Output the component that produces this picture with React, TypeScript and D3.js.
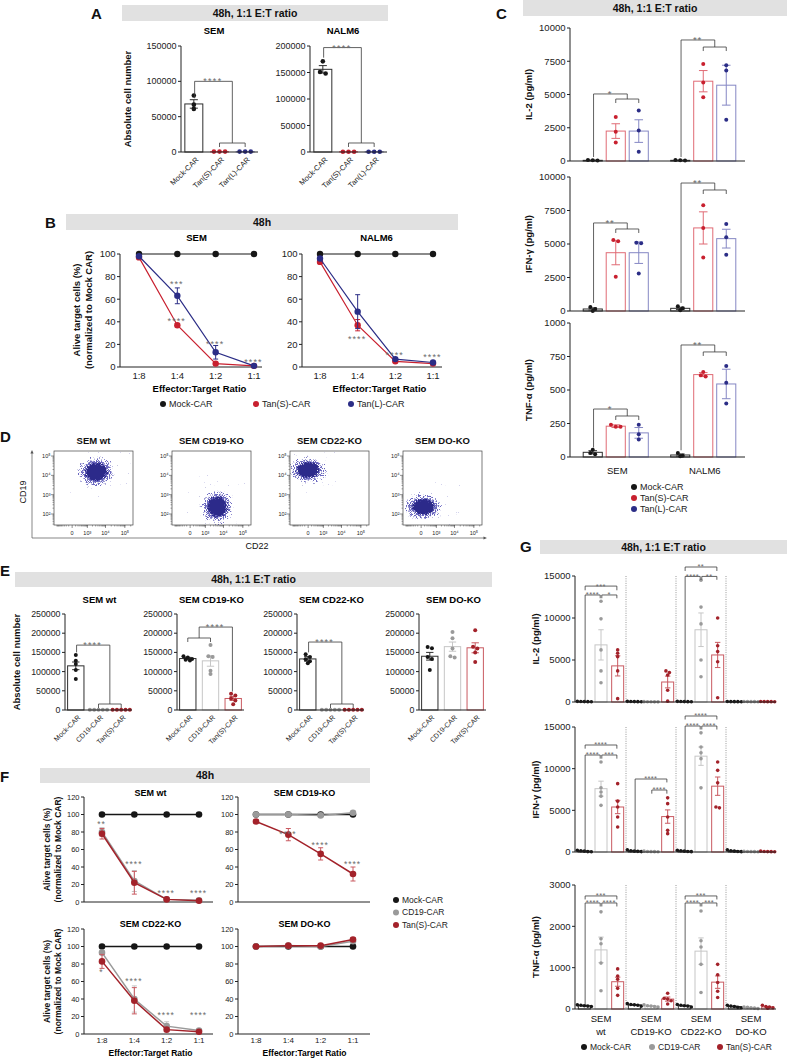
import React from 'react'
import * as d3 from 'd3'

const FONT = '"Liberation Sans", Arial, Helvetica, sans-serif'
const K = '#161616'
const K_L = '#2e2e2e'
const RED = '#c8202f'
const RED_L = '#e06b75'
const BLUE = '#2b2d86'
const BLUE_L = '#8587c4'
const GREY = '#9a9a9a'
const GREY_L = '#c6c6c6'
const DRED = '#a3222a'
const DRED_L = '#c95a61'
const STAR = '#6b6b6b'
const HEAD = '#e1e1e1'

// ---------- A: absolute counts, 48h 1:1
const aCars = ['Mock-CAR', 'Tan(S)-CAR', 'Tan(L)-CAR']
const aSemMean = [68000, 600, 600]
const aSemErr = [6000, 0, 0]
const aSemDots = [[80000, 67000, 61000], [600, 600, 600], [600, 600, 600]]
const aNalmMean = [156000, 600, 600]
const aNalmErr = [7000, 0, 0]
const aNalmDots = [[171000, 151000, 148000], [600, 600, 600], [600, 600, 600]]
const aSemTicks = [0, 50000, 100000, 150000]
const aNalmTicks = [0, 50000, 100000, 150000, 200000]
const aSemSig = [{ t: '****', a: [0], aTo: 76000, b: [1, 2], bTo: 12700, at: 100000 }]
const aNalmSig = [{ t: '****', a: [0], aTo: 178000, b: [1, 2], bTo: 17000, at: 197000 }]

// ---------- B: killing curves
const ratios = ['1:8', '1:4', '1:2', '1:1']
const bMock = [100, 100, 100, 100]
const bSemTanS = [97, 37, 3, 1]
const bSemTanSErr = [1, 1.5, 1, 0.5]
const bSemTanL = [98, 63, 13, 1]
const bSemTanLErr = [1, 7, 6, 0.5]
const bSemStars = [['***', 1, 75], ['****', 1, 42.5], ['****', 2, 22], ['****', 3, 6]]
const bNalmTanS = [93, 37, 5, 3]
const bNalmTanSErr = [1, 5, 1, 0.5]
const bNalmTanL = [96, 49, 7, 4]
const bNalmTanLErr = [1, 15, 1, 0.5]
const bNalmStars = [['****', 1, 27], ['****', 2, 13], ['****', 3, 10.5]]
const bTicks = [0, 20, 40, 60, 80, 100]

// ---------- C: cytokines
const cLines = ['SEM', 'NALM6']
const cIl2Mean = [50, 2250, 2250, 50, 6000, 5700]
const cIl2Err = [10, 550, 850, 10, 800, 1500]
const cIl2Dots = [[80, 50, 30], [3300, 2200, 1400], [3800, 2300, 700], [80, 50, 30], [7300, 5900, 4800], [7200, 6800, 3100]]
const cIfnMean = [150, 4350, 4350, 200, 6200, 5400]
const cIfnErr = [80, 900, 800, 80, 1200, 700]
const cIfnDots = [[300, 150, 0], [5300, 5200, 2550], [5100, 5050, 2800], [350, 200, 50], [7900, 6200, 4000], [6500, 5500, 4200]]
const cTnfMean = [35, 230, 180, 15, 615, 545]
const cTnfErr = [12, 10, 40, 8, 15, 110]
const cTnfDots = [[55, 30, 20], [240, 225, 225], [240, 170, 130], [30, 10, 5], [635, 610, 600], [680, 555, 400]]
const cCytoTicks = [0, 2500, 5000, 7500, 10000]
const cTnfTicks = [0, 250, 500, 750, 1000]
const cIl2Sig = [
  { t: '*', a: [0], aTo: 300, b: [1, 2], bTo: 4660, at: 5040 },
  { t: '**', a: [3], aTo: 300, b: [4, 5], bTo: 8570, at: 9100 },
]
const cIfnSig = [
  { t: '**', a: [0], aTo: 600, b: [1, 2], bTo: 6120, at: 6570 },
  { t: '**', a: [3], aTo: 600, b: [4, 5], bTo: 9030, at: 9550 },
]
const cTnfSig = [
  { t: '*', a: [0], aTo: 70, b: [1, 2], bTo: 306, at: 358 },
  { t: '**', a: [3], aTo: 50, b: [4, 5], bTo: 784, at: 836 },
]

// ---------- D: flow cytometry populations (CD22 median, CD19 median, spreads)
const dPlots = ['SEM wt', 'SEM CD19-KO', 'SEM CD22-KO', 'SEM DO-KO']
const dCd22 = [3200, 4700, 0, 60]
const dCd19 = [15000, 235, 19000, 235]
const dCd22Sd = [1.6, 1.45, 1.65, 1.65]
const dCd19Sd = [0.58, 0.65, 0.5, 0.5]

// ---------- E: absolute counts on KO lines
const eSubs = ['SEM wt', 'SEM CD19-KO', 'SEM CD22-KO', 'SEM DO-KO']
const eCars = ['Mock-CAR', 'CD19-CAR', 'Tan(S)-CAR']
const eTicks = [0, 50000, 100000, 150000, 200000, 250000]
const eWtMean = [115000, 500, 500]
const eWtErr = [10000, 0, 0]
const eWtDots = [[143000, 128000, 120000, 104000, 81000], [500, 500, 500, 500, 500], [500, 500, 500, 500, 500]]
const eCd19Mean = [134000, 128000, 30000]
const eCd19Err = [3000, 14000, 5000]
const eCd19Dots = [[140000, 137000, 133000, 131000, 129000], [169000, 140000, 138000, 102000, 94000], [42000, 38000, 30000, 25000, 15000]]
const eCd22Mean = [133000, 500, 500]
const eCd22Err = [6000, 0, 0]
const eCd22Dots = [[145000, 138000, 132000, 127000, 122000], [500, 500, 500, 500, 500], [500, 500, 500, 500, 500]]
const eDoMean = [140000, 165000, 162000]
const eDoErr = [10000, 12000, 13000]
const eDoDots = [[164000, 161000, 138000, 133000, 104000], [203000, 187000, 160000, 140000, 137000], [208000, 165000, 160000, 150000, 125000]]
const eWtSig = [{ t: '****', a: [0], aTo: 150000, b: [1, 2], bTo: 15600, at: 169000 }]
const eCd19Sig = [{ t: '****', a: [0, 1], aTo: 187500, b: [2], bTo: 48000, at: 216000 }]
const eCd22Sig = [{ t: '****', a: [0], aTo: 150000, b: [1, 2], bTo: 15600, at: 177000 }]

// ---------- F: killing curves on KO lines
const fTicks = [0, 20, 40, 60, 80, 100, 120]
const fWtCd19 = [80, 24, 3, 2]
const fWtCd19Err = [5, 12, 1, 0.5]
const fWtTanS = [78, 22, 3, 1.5]
const fWtTanSErr = [6, 13, 1, 0.5]
const fWtStars = [['**', 0, 91], ['****', 1, 46], ['****', 2, 12.5], ['****', 3, 12.5]]
const fCd19Cd19 = [100, 100, 99, 102]
const fCd19Cd19Err = [1, 1, 2, 1.5]
const fCd19TanS = [92, 77, 55, 32]
const fCd19TanSErr = [2, 7, 7, 8]
const fCd19Stars = [['****', 1, 80], ['****', 2, 67], ['****', 3, 46]]
const fCd22Cd19 = [93, 40, 9, 4]
const fCd22Cd19Err = [2, 15, 5, 1]
const fCd22TanS = [83, 38, 5, 2.5]
const fCd22TanSErr = [8, 15, 2, 1]
const fCd22Stars = [['*', 0, 73], ['****', 1, 63], ['****', 2, 24], ['****', 3, 24]]
const fDoCd19 = [100, 101, 100, 106]
const fDoCd19Err = [1, 1, 1, 2]
const fDoTanS = [100, 101, 101, 108]
const fDoTanSErr = [1, 1, 1, 2]

// ---------- G: cytokines on KO lines
const gGroups = [['SEM', 'wt'], ['SEM', 'CD19-KO'], ['SEM', 'CD22-KO'], ['SEM', 'DO-KO']]
const gCars = ['Mock-CAR', 'CD19-CAR', 'Tan(S)-CAR']
const gIl2Mean = [50, 6800, 4300, 50, 30, 2380, 50, 8600, 5600, 50, 40, 40]
const gIl2Err = [10, 1800, 1200, 10, 10, 700, 10, 2000, 1500, 10, 10, 10]
const gIl2Dots = [
  [80, 60, 50, 40, 30], [12000, 9900, 6200, 3700, 2300], [6200, 5800, 5400, 3700, 400],
  [80, 60, 50, 40, 30], [40, 30, 30, 20, 20], [3700, 3500, 3200, 1400, 100],
  [80, 60, 50, 40, 30], [14500, 11300, 9300, 5000, 3000], [10000, 6700, 6000, 4800, 500],
  [60, 50, 40, 40, 30], [60, 50, 40, 40, 30], [60, 50, 40, 40, 30],
]
const gIfnMean = [100, 7600, 5400, 120, 60, 4250, 100, 11500, 7900, 120, 60, 60]
const gIfnErr = [30, 900, 800, 40, 20, 800, 30, 1100, 1100, 30, 20, 20]
const gIfnDots = [
  [200, 150, 100, 50, 30], [10800, 7700, 7200, 6700, 5600], [8200, 6100, 5400, 4200, 3000],
  [250, 150, 100, 80, 50], [100, 60, 50, 40, 30], [6500, 5800, 4200, 2600, 2200],
  [200, 150, 100, 60, 40], [14300, 12600, 11900, 11200, 7700], [10800, 9800, 8300, 5400, 5300],
  [250, 150, 100, 60, 40], [80, 60, 50, 40, 30], [100, 60, 50, 40, 30],
]
const gTnfMean = [80, 1430, 660, 100, 70, 240, 80, 1400, 650, 60, 30, 50]
const gTnfErr = [10, 310, 110, 10, 10, 50, 10, 320, 150, 10, 5, 10]
const gTnfDots = [
  [100, 90, 80, 70, 60], [2350, 1700, 1580, 1110, 440], [970, 800, 720, 500, 330],
  [130, 110, 100, 90, 70], [100, 80, 70, 60, 50], [380, 260, 240, 200, 120],
  [110, 90, 80, 70, 50], [2370, 1650, 1500, 1080, 400], [1080, 830, 640, 430, 280],
  [90, 70, 60, 40, 30], [50, 40, 30, 20, 10], [90, 60, 50, 30, 20],
]
const gCytoTicks = [0, 5000, 10000, 15000]
const gTnfTicks = [0, 1000, 2000, 3000]
const gIl2Sig = [
  { t: '***', a: [0], aTo: 13300, b: [2], bTo: 13300, at: 13800 },
  { t: '****', a: [0], aTo: 150, b: [1], bTo: 12350, at: 12740 },
  { t: '*', a: [1], aTo: 12350, b: [2], bTo: 12350, at: 12740 },
  { t: '**', a: [6], aTo: 15600, b: [8], bTo: 15600, at: 16070 },
  { t: '****', a: [6], aTo: 150, b: [7], bTo: 14550, at: 14950 },
  { t: '**', a: [7], aTo: 14550, b: [8], bTo: 14550, at: 14950 },
]
const gIfnSig = [
  { t: '****', a: [0], aTo: 12400, b: [2], bTo: 12400, at: 12840 },
  { t: '****', a: [0], aTo: 150, b: [1], bTo: 11200, at: 11640 },
  { t: '***', a: [1], aTo: 11200, b: [2], bTo: 11200, at: 11640 },
  { t: '****', a: [3], aTo: 150, b: [5], bTo: 8350, at: 8760 },
  { t: '****', a: [4], aTo: 7000, b: [5], bTo: 7000, at: 7440 },
  { t: '****', a: [6], aTo: 15900, b: [8], bTo: 15900, at: 16320 },
  { t: '****', a: [6], aTo: 150, b: [7], bTo: 14700, at: 15120 },
  { t: '****', a: [7], aTo: 14700, b: [8], bTo: 14700, at: 15120 },
]
const gTnfSig = [
  { t: '***', a: [0], aTo: 2650, b: [2], bTo: 2650, at: 2735 },
  { t: '****', a: [0], aTo: 100, b: [1], bTo: 2480, at: 2565 },
  { t: '****', a: [1], aTo: 2480, b: [2], bTo: 2480, at: 2565 },
  { t: '***', a: [6], aTo: 2650, b: [8], bTo: 2650, at: 2735 },
  { t: '****', a: [6], aTo: 100, b: [7], bTo: 2480, at: 2565 },
  { t: '***', a: [7], aTo: 2480, b: [8], bTo: 2480, at: 2565 },
]

// spread dots that sit at the same height side by side
function swarm(vals, y, r, sp) {
  const items = vals.map(v => ({ py: y(v) })).sort((a, b) => a.py - b.py)
  const out = []
  let grp = []
  const flush = () => {
    grp.forEach((d, j) => out.push({ dx: (j - (grp.length - 1) / 2) * sp, py: d.py }))
    grp = []
  }
  items.forEach(d => {
    if (grp.length && d.py - grp[0].py > r * 1.5) flush()
    grp.push(d)
  })
  flush()
  return out
}

function Header({ x, y, w, h, t, fs = 10.5 }) {
  return (
    <g>
      <rect x={x} y={y} width={w} height={h} fill={HEAD} />
      <text x={x + w / 2} y={y + h / 2} dy="0.36em" textAnchor="middle" fontSize={fs} fontWeight="bold" fill="#111">{t}</text>
    </g>
  )
}

const PLabel = ({ x, y, t }) => <text x={x} y={y} fontSize={15} fontWeight="bold" fill="#111">{t}</text>

function YLabel({ x, y, t, fs = 9.5, bold = true }) {
  return <text transform={`translate(${x},${y}) rotate(-90)`} dy="0.35em" textAnchor="middle" fontSize={fs} fontWeight={bold ? 'bold' : 'normal'} fill="#111">{t}</text>
}

function Stars({ x, y, t, fs, ls }) {
  return <text x={x - ls / 2} y={y} textAnchor="middle" fontSize={fs} letterSpacing={ls} fill={STAR}>{t}</text>
}

function DotBarPlot({ x0, x1, y0, yTop, max, ticks, xs, bw, slots, r, sp = 0, sig = [], tickSize = 9, labels = null, labelSize = 7.5, seps = [], starSize = 8, starLs = 0.8 }) {
  const y = d3.scaleLinear().domain([0, max]).range([y0, yTop])
  const cw = bw * 0.45
  const spacing = sp || r * 2 + 0.4
  const bx = (s) => (s.length === 1 ? xs[s[0]] : (xs[s[0]] + xs[s[1]]) / 2)
  return (
    <g>
      {seps.map((sx, i) => (
        <line key={'s' + i} x1={sx} x2={sx} y1={yTop} y2={y0} stroke="#8c8c8c" strokeWidth={0.9} strokeDasharray="1 1.3" />
      ))}
      {slots.map((s, i) => {
        const cx = xs[i]
        const top = y(s.mean)
        const pts = swarm(s.dots, y, r, spacing)
        return (
          <g key={i}>
            <rect x={cx - bw / 2} y={top} width={bw} height={Math.max(0, y0 - top)} fill="#fff" stroke={s.light} strokeWidth={1} />
            {s.err > 0 && (
              <path
                d={`M${cx},${y(s.mean - s.err)}V${y(s.mean + s.err)}M${cx - cw / 2},${y(s.mean + s.err)}H${cx + cw / 2}M${cx - cw / 2},${y(s.mean - s.err)}H${cx + cw / 2}`}
                stroke={s.light} strokeWidth={1} fill="none"
              />
            )}
            {pts.map((d, j) => <circle key={j} cx={cx + d.dx} cy={d.py} r={r} fill={s.col} />)}
          </g>
        )
      })}
      <line x1={x0} x2={x0} y1={y0} y2={yTop} stroke="#222" strokeWidth={1} />
      {ticks.map(t => (
        <g key={t}>
          <line x1={x0 - 3} x2={x0} y1={y(t)} y2={y(t)} stroke="#222" strokeWidth={1} />
          <text x={x0 - 4.5} y={y(t)} dy="0.35em" textAnchor="end" fontSize={tickSize} fill="#222">{t}</text>
        </g>
      ))}
      <line x1={x0} x2={x1} y1={y0} y2={y0} stroke="#222" strokeWidth={1} />
      {labels && labels.map((l, i) => (
        <text key={'l' + i} transform={`translate(${xs[i] + 2},${y0 + 5}) rotate(-45)`} dy="0.6em" textAnchor="end" fontSize={labelSize} fill="#222">{l}</text>
      ))}
      {sig.map((g, i) => {
        const xa = g.a.length === 1 ? bx(g.a) + 0.8 : bx(g.a)
        const xb = g.b.length === 1 ? bx(g.b) - 0.8 : bx(g.b)
        const ya = y(g.at)
        let d = `M${xa},${y(g.aTo)}V${ya}H${xb}V${y(g.bTo)}`
        if (g.a.length === 2) d += `M${xs[g.a[0]]},${y(g.aTo) + 4}V${y(g.aTo)}H${xs[g.a[1]]}V${y(g.aTo) + 4}`
        if (g.b.length === 2) d += `M${xs[g.b[0]]},${y(g.bTo) + 4}V${y(g.bTo)}H${xs[g.b[1]]}V${y(g.bTo) + 4}`
        return (
          <g key={'g' + i}>
            <path d={d} fill="none" stroke="#3a3a3a" strokeWidth={0.8} />
            <Stars x={(xa + xb) / 2} y={ya + starSize * 0.43 - 0.8} t={g.t} fs={starSize} ls={starLs} />
          </g>
        )
      })}
    </g>
  )
}

function LinePlot({ x0, x1, p0, p1, y0, yTop, max, ticks, series, stars, r, lw, tickSize, starSize = 8.5, starLs = 1, xLabelY = 0, xLabelSize = 9 }) {
  const y = d3.scaleLinear().domain([0, max]).range([y0, yTop])
  const x = d3.scalePoint().domain(ratios).range([p0, p1])
  const line = d3.line().x((_, i) => x(ratios[i])).y(v => y(v))
  return (
    <g>
      <line x1={x0} x2={x0} y1={y0} y2={yTop} stroke="#222" strokeWidth={1} />
      {ticks.map(t => (
        <g key={t}>
          <line x1={x0 - 3} x2={x0} y1={y(t)} y2={y(t)} stroke="#222" strokeWidth={1} />
          <text x={x0 - 4.5} y={y(t)} dy="0.35em" textAnchor="end" fontSize={tickSize} fill="#222">{t}</text>
        </g>
      ))}
      <line x1={x0} x2={x1} y1={y0} y2={y0} stroke="#222" strokeWidth={1} />
      {series.map((s, k) => (
        <g key={k}>
          {s.e && s.v.map((v, i) => {
            const cx = x(ratios[i])
            return s.e[i] > 0.6 ? (
              <path key={i} d={`M${cx},${y(v - s.e[i])}V${y(v + s.e[i])}M${cx - 2.5},${y(v - s.e[i])}h5M${cx - 2.5},${y(v + s.e[i])}h5`} stroke={s.light} strokeWidth={1} fill="none" />
            ) : null
          })}
          <path d={line(s.v)} fill="none" stroke={s.col} strokeWidth={lw} />
          {s.v.map((v, i) => <circle key={i} cx={x(ratios[i])} cy={y(v)} r={r} fill={s.col} />)}
        </g>
      ))}
      {stars.map(([t, i, v], k) => (
        <Stars key={'st' + k} x={x(ratios[i])} y={y(v) + starSize * 0.58} t={t} fs={starSize} ls={starLs} />
      ))}
      {xLabelY > 0 && ratios.map(rt => (
        <text key={rt} x={x(rt)} y={xLabelY} textAnchor="middle" fontSize={xLabelSize} fill="#222">{rt}</text>
      ))}
    </g>
  )
}

function Legend({ items, x, y, dx = 0, dy = 0, fs = 9 }) {
  return (
    <g>
      {items.map(([t, c], i) => (
        <g key={t} transform={`translate(${x + dx * i},${y + dy * i})`}>
          <circle cx={0} cy={0} r={3} fill={c} />
          <text x={6} y={0} dy="0.35em" fontSize={fs} fill="#222">{t}</text>
        </g>
      ))}
    </g>
  )
}

function PanelA() {
  const parts = [
    { x0: 181, title: 'SEM', mean: aSemMean, err: aSemErr, dots: aSemDots, max: 150000, ticks: aSemTicks, sig: aSemSig },
    { x0: 310, title: 'NALM6', mean: aNalmMean, err: aNalmErr, dots: aNalmDots, max: 200000, ticks: aNalmTicks, sig: aNalmSig },
  ]
  const cols = [K, RED, BLUE]
  const lights = [K_L, RED_L, BLUE_L]
  return (
    <g>
      <PLabel x={91} y={19} t="A" />
      <Header x={122} y={5} w={266} h={16} t="48h, 1:1 E:T ratio" />
      {parts.map(p => {
        const band = d3.scaleBand().domain(aCars).range([p.x0, p.x0 + 77]).paddingInner(0.3).paddingOuter(0.15)
        const xs = aCars.map(c => band(c) + band.bandwidth() / 2)
        const slots = aCars.map((c, i) => ({ mean: p.mean[i], err: p.err[i], dots: p.dots[i], col: cols[i], light: lights[i] }))
        return (
          <g key={p.title}>
            <text x={p.x0 + 33} y={34} textAnchor="middle" fontSize={9.5} fontWeight="bold">{p.title}</text>
            <DotBarPlot x0={p.x0} x1={p.x0 + 77} y0={152} yTop={46} max={p.max} ticks={p.ticks} xs={xs} bw={band.bandwidth()} slots={slots} r={2.3} sp={5.6} sig={p.sig} tickSize={9} labels={aCars} labelSize={7.5} starSize={9} starLs={1.3} />
          </g>
        )
      })}
      <YLabel x={128} y={99} t="Absolute cell number" />
    </g>
  )
}

function PanelB() {
  const parts = [
    { x0: 120, p0: 139, p1: 254, x1: 262, title: 'SEM', s: [bSemTanS, bSemTanSErr, bSemTanL, bSemTanLErr], stars: bSemStars },
    { x0: 302, p0: 320, p1: 433, x1: 442, title: 'NALM6', s: [bNalmTanS, bNalmTanSErr, bNalmTanL, bNalmTanLErr], stars: bNalmStars },
  ]
  return (
    <g>
      <PLabel x={45} y={228} t="B" />
      <Header x={66} y={214} w={392} h={16} t="48h" />
      {parts.map(p => (
        <g key={p.title}>
          <text x={(p.p0 + p.p1) / 2} y={241} textAnchor="middle" fontSize={9.5} fontWeight="bold">{p.title}</text>
          <LinePlot
            x0={p.x0} x1={p.x1} p0={p.p0} p1={p.p1} y0={367} yTop={254} max={100} ticks={bTicks} r={3.2} lw={1.2} tickSize={9.5}
            series={[
              { v: bMock, e: null, col: K, light: K },
              { v: p.s[0], e: p.s[1], col: RED, light: RED },
              { v: p.s[2], e: p.s[3], col: BLUE, light: BLUE },
            ]}
            stars={p.stars} starSize={9} starLs={1.1} xLabelY={378.5} xLabelSize={9.5}
          />
          <text x={(p.p0 + p.p1) / 2 + 3} y={392} textAnchor="middle" fontSize={9.5} fontWeight="bold">Effector:Target Ratio</text>
        </g>
      ))}
      <YLabel x={77} y={310} t="Alive target cells (%)" />
      <YLabel x={89} y={310} t="(normalized to Mock CAR)" />
      <Legend items={[['Mock-CAR', K]]} x={163} y={404} />
      <Legend items={[['Tan(S)-CAR', RED]]} x={256} y={404} />
      <Legend items={[['Tan(L)-CAR', BLUE]]} x={351} y={404} />
    </g>
  )
}

function PanelC() {
  const outer = d3.scaleBand().domain(cLines).range([572, 747])
  const inner = d3.scaleBand().domain([0, 1, 2]).range([0, outer.bandwidth()]).paddingInner(0.17).paddingOuter(0.487)
  const xs = cLines.flatMap(l => [0, 1, 2].map(k => outer(l) + inner(k) + inner.bandwidth() / 2))
  const cols = [K, RED, BLUE, K, RED, BLUE]
  const lights = [K_L, RED_L, BLUE_L, K_L, RED_L, BLUE_L]
  const panels = [
    { y0: 161, yTop: 28, max: 10000, ticks: cCytoTicks, mean: cIl2Mean, err: cIl2Err, dots: cIl2Dots, sig: cIl2Sig, label: 'IL-2 (pg/ml)' },
    { y0: 311, yTop: 177, max: 10000, ticks: cCytoTicks, mean: cIfnMean, err: cIfnErr, dots: cIfnDots, sig: cIfnSig, label: 'IFN-\u03b3 (pg/ml)' },
    { y0: 457, yTop: 323, max: 1000, ticks: cTnfTicks, mean: cTnfMean, err: cTnfErr, dots: cTnfDots, sig: cTnfSig, label: 'TNF-\u03b1 (pg/ml)' },
  ]
  return (
    <g>
      <PLabel x={496} y={19} t="C" />
      <Header x={523} y={0} w={264} h={16} t="48h, 1:1 E:T ratio" />
      {panels.map(p => {
        const slots = p.mean.map((m, i) => ({ mean: m, err: p.err[i], dots: p.dots[i], col: cols[i], light: lights[i] }))
        return (
          <g key={p.label}>
            <DotBarPlot x0={570} x1={745} y0={p.y0} yTop={p.yTop} max={p.max} ticks={p.ticks} xs={xs} bw={inner.bandwidth()} slots={slots} r={2} sp={4.8} sig={p.sig} tickSize={9.5} starSize={9.5} starLs={0.8} />
            <YLabel x={529} y={(p.y0 + p.yTop) / 2} t={p.label} />
          </g>
        )
      })}
      {cLines.map(l => (
        <text key={l} x={outer(l) + outer.bandwidth() / 2 + 1.5} y={474} textAnchor="middle" fontSize={9.5} fill="#111">{l}</text>
      ))}
      <Legend items={[['Mock-CAR', K], ['Tan(S)-CAR', RED], ['Tan(L)-CAR', BLUE]]} x={634} y={487} dy={11} />
    </g>
  )
}

function PanelD() {
  const lefts = [54, 172, 290, 403]
  const W = 79
  const H = 74
  const top = 451
  const fx = d3.scaleSymlog().constant(200).domain([-1500, 262144]).range([0, W])
  const fy = d3.scaleLog().domain([Math.pow(10, 1.43), Math.pow(10, 5.26)]).range([H, 0])
  const fxUnit = W / (Math.log1p(262144 / 200) + Math.log1p(1500 / 200))
  const fyUnit = H / (5.26 - 1.43)
  const yMajor = [[100, '10\u00b2'], [1000, '10\u00b3'], [10000, '10\u2074'], [100000, '10\u2075']]
  const xMajor = [[0, '0'], [1000, '10\u00b3'], [10000, '10\u2074'], [100000, '10\u2075']]
  const yMinor = []
  ;[1, 2, 3, 4, 5].forEach(k => d3.range(2, 10).forEach(m => { const v = m * Math.pow(10, k); if (v > Math.pow(10, 1.43) && v < Math.pow(10, 5.26)) yMinor.push(v) }))
  const xMinor = []
  ;[2, 3, 4, 5].forEach(k => d3.range(1, 10).forEach(m => { const v = m * Math.pow(10, k); if (v < 262144) xMinor.push(v); if (-v > -1500) xMinor.push(-v) }))
  return (
    <g>
      <defs>
        <radialGradient id="cloudG">
          <stop offset="0" stopColor="#000" stopOpacity={1} />
          <stop offset="0.5" stopColor="#000" stopOpacity={0.97} />
          <stop offset="0.78" stopColor="#000" stopOpacity={0.45} />
          <stop offset="1" stopColor="#000" stopOpacity={0} />
        </radialGradient>
        <filter id="speckDark" x="-30%" y="-30%" width="160%" height="160%" colorInterpolationFilters="sRGB">
          <feTurbulence type="fractalNoise" baseFrequency="0.9" numOctaves={2} seed={4} result="n" />
          <feColorMatrix in="n" type="matrix" values="0 0 0 0 0  0 0 0 0 0  0 0 0 0 0  1.6 0 0 0 -0.3" result="na" />
          <feComposite in="SourceAlpha" in2="na" operator="arithmetic" k1={0} k2={1} k3={0.8} k4={-0.75} result="s" />
          <feComponentTransfer in="s" result="th"><feFuncA type="linear" slope={5} intercept={0} /></feComponentTransfer>
          <feFlood floodColor="#2c2a8a" result="f" />
          <feComposite in="f" in2="th" operator="in" />
        </filter>
        <filter id="speckLight" x="-30%" y="-30%" width="160%" height="160%" colorInterpolationFilters="sRGB">
          <feTurbulence type="fractalNoise" baseFrequency="1.1" numOctaves={2} seed={11} result="n" />
          <feColorMatrix in="n" type="matrix" values="0 0 0 0 0  0 0 0 0 0  0 0 0 0 0  1.6 0 0 0 -0.3" result="na" />
          <feComposite in="SourceAlpha" in2="na" operator="arithmetic" k1={0} k2={0.7} k3={1} k4={-0.95} result="s" />
          <feComponentTransfer in="s" result="th"><feFuncA type="linear" slope={6} intercept={0} /></feComponentTransfer>
          <feFlood floodColor="#6c69c0" result="f" />
          <feComposite in="f" in2="th" operator="in" />
        </filter>
      </defs>
      <PLabel x={0} y={442} t="D" />
      {dPlots.map((t, i) => {
        const cx = fx(dCd22[i])
        const cy = fy(dCd19[i])
        const rx = dCd22Sd[i] * fxUnit
        const ry = dCd19Sd[i] * fyUnit
        return (
          <g key={t} transform={`translate(${lefts[i]},${top})`}>
            <text x={W / 2} y={-7} textAnchor="middle" fontSize={9.5} fontWeight="bold" fill="#111">{t}</text>
            <svg x={0} y={0} width={W} height={H} overflow="hidden">
              <ellipse cx={cx} cy={cy} rx={rx * 1.6} ry={ry * 1.6} fill="url(#cloudG)" filter="url(#speckLight)" />
              <ellipse cx={cx} cy={cy} rx={rx} ry={ry} fill="url(#cloudG)" filter="url(#speckDark)" />
            </svg>
            <rect x={0} y={0} width={W} height={H} fill="none" stroke="#444" strokeWidth={0.7} />
            {yMinor.map((v, k) => <line key={'ym' + k} x1={-1.5} x2={0} y1={fy(v)} y2={fy(v)} stroke="#444" strokeWidth={0.5} />)}
            {yMajor.map(([v, l]) => (
              <g key={'yM' + v}>
                <line x1={-3} x2={0} y1={fy(v)} y2={fy(v)} stroke="#444" strokeWidth={0.6} />
                <text x={-3.5} y={fy(v)} dy="0.35em" textAnchor="end" fontSize={5.5} fill="#222">{l}</text>
              </g>
            ))}
            {xMinor.map((v, k) => <line key={'xm' + k} x1={fx(v)} x2={fx(v)} y1={H} y2={H + 1.5} stroke="#444" strokeWidth={0.5} />)}
            {xMajor.map(([v, l]) => (
              <g key={'xM' + v}>
                <line x1={fx(v)} x2={fx(v)} y1={H} y2={H + 3} stroke="#444" strokeWidth={0.6} />
                <text x={fx(v)} y={H + 9.5} textAnchor="middle" fontSize={5.5} fill="#222">{l}</text>
              </g>
            ))}
          </g>
        )
      })}
      <path d="M32,538V453M32,538H484" fill="none" stroke="#555" strokeWidth={0.7} />
      <path d="M32,450l-1.6,3.5h3.2z M487,538l-3.5,-1.6v3.2z" fill="#555" />
      <YLabel x={23} y={492} t="CD19" fs={9} bold={false} />
      <text x={257} y={549} textAnchor="middle" fontSize={9} fill="#111">CD22</text>
    </g>
  )
}

function PanelE() {
  const axes = [65, 177, 297, 419]
  const W = 67
  const parts = [
    { mean: eWtMean, err: eWtErr, dots: eWtDots, sig: eWtSig },
    { mean: eCd19Mean, err: eCd19Err, dots: eCd19Dots, sig: eCd19Sig },
    { mean: eCd22Mean, err: eCd22Err, dots: eCd22Dots, sig: eCd22Sig },
    { mean: eDoMean, err: eDoErr, dots: eDoDots, sig: [] },
  ]
  const cols = [K, GREY, DRED]
  const lights = [K_L, GREY_L, DRED_L]
  return (
    <g>
      <PLabel x={0} y={576} t="E" />
      <Header x={15} y={572} w={477} h={15} t="48h, 1:1 E:T ratio" />
      {parts.map((p, k) => {
        const x0 = axes[k]
        const band = d3.scaleBand().domain(eCars).range([x0, x0 + W]).paddingInner(0.28).paddingOuter(0.115)
        const xs = eCars.map(c => band(c) + band.bandwidth() / 2)
        const slots = eCars.map((c, i) => ({ mean: p.mean[i], err: p.err[i], dots: p.dots[i], col: cols[i], light: lights[i] }))
        return (
          <g key={k}>
            <text x={x0 + W / 2 + 1} y={603} textAnchor="middle" fontSize={9.5} fontWeight="bold">{eSubs[k]}</text>
            <DotBarPlot x0={x0} x1={x0 + W} y0={710} yTop={614} max={250000} ticks={eTicks} xs={xs} bw={band.bandwidth()} slots={slots} r={2} sp={4.3} sig={p.sig} tickSize={8.8} labels={eCars} labelSize={7} starSize={9} starLs={1.2} />
          </g>
        )
      })}
      <YLabel x={17} y={662} t="Absolute cell number" />
    </g>
  )
}

function PanelF() {
  const cols = [
    { x0: 84, p0: 102, p1: 199, x1: 213 },
    { x0: 238, p0: 256, p1: 353, x1: 370 },
  ]
  const rows = [
    { y0: 902, yTop: 797, titleY: 796 },
    { y0: 1034, yTop: 929, titleY: 927 },
  ]
  const plots = [
    { c: 0, r: 0, t: 'SEM wt', cd19: [fWtCd19, fWtCd19Err], tans: [fWtTanS, fWtTanSErr], stars: fWtStars },
    { c: 1, r: 0, t: 'SEM CD19-KO', cd19: [fCd19Cd19, fCd19Cd19Err], tans: [fCd19TanS, fCd19TanSErr], stars: fCd19Stars },
    { c: 0, r: 1, t: 'SEM CD22-KO', cd19: [fCd22Cd19, fCd22Cd19Err], tans: [fCd22TanS, fCd22TanSErr], stars: fCd22Stars },
    { c: 1, r: 1, t: 'SEM DO-KO', cd19: [fDoCd19, fDoCd19Err], tans: [fDoTanS, fDoTanSErr], stars: [] },
  ]
  return (
    <g>
      <PLabel x={0} y={782} t="F" />
      <Header x={40} y={768} w={330} h={15} t="48h" />
      {plots.map(p => {
        const c = cols[p.c]
        const r = rows[p.r]
        return (
          <g key={p.t}>
            <text x={(c.p0 + c.p1) / 2} y={r.titleY} textAnchor="middle" fontSize={9} fontWeight="bold">{p.t}</text>
            <LinePlot
              x0={c.x0} x1={c.x1} p0={c.p0} p1={c.p1} y0={r.y0} yTop={r.yTop} max={120} ticks={fTicks} r={3.3} lw={1.5} tickSize={7.5} starSize={8.5} starLs={1}
              series={[
                { v: bMock, e: null, col: K, light: K },
                { v: p.cd19[0], e: p.cd19[1], col: GREY, light: GREY_L },
                { v: p.tans[0], e: p.tans[1], col: DRED, light: DRED_L },
              ]}
              stars={p.stars} xLabelY={p.r === 1 ? 1043 : 0} xLabelSize={8}
            />
            {p.r === 1 && <text x={(c.p0 + c.p1) / 2} y={1056} textAnchor="middle" fontSize={8.5} fontWeight="bold">Effector:Target Ratio</text>}
          </g>
        )
      })}
      {rows.map((r, i) => (
        <g key={i}>
          <YLabel x={47} y={(r.y0 + r.yTop) / 2} t="Alive target cells (%)" fs={8.5} />
          <YLabel x={58} y={(r.y0 + r.yTop) / 2} t="(normalized to Mock CAR)" fs={8.5} />
        </g>
      ))}
      <Legend items={[['Mock-CAR', K], ['CD19-CAR', GREY], ['Tan(S)-CAR', DRED]]} x={396} y={900} dy={12.5} fs={8.5} />
    </g>
  )
}

function PanelG() {
  const keys = gGroups.map(g => g[1])
  const outer = d3.scaleBand().domain(keys).range([576, 776])
  const inner = d3.scaleBand().domain([0, 1, 2]).range([0, outer.bandwidth()]).paddingInner(0.28).paddingOuter(0.14)
  const xs = keys.flatMap(k => [0, 1, 2].map(i => outer(k) + inner(i) + inner.bandwidth() / 2))
  const seps = keys.slice(1).map(k => outer(k))
  const cols = [K, GREY, DRED]
  const lights = [K_L, GREY_L, DRED_L]
  const panels = [
    { y0: 702, yTop: 576, max: 15000, ticks: gCytoTicks, mean: gIl2Mean, err: gIl2Err, dots: gIl2Dots, sig: gIl2Sig, label: 'IL-2 (pg/ml)' },
    { y0: 852, yTop: 727, max: 15000, ticks: gCytoTicks, mean: gIfnMean, err: gIfnErr, dots: gIfnDots, sig: gIfnSig, label: 'IFN-\u03b3 (pg/ml)' },
    { y0: 1009, yTop: 885, max: 3000, ticks: gTnfTicks, mean: gTnfMean, err: gTnfErr, dots: gTnfDots, sig: gTnfSig, label: 'TNF-\u03b1 (pg/ml)' },
  ]
  return (
    <g>
      <PLabel x={520} y={552} t="G" />
      <Header x={540} y={540} w={247} h={14} t="48h, 1:1 E:T ratio" />
      {panels.map(p => {
        const slots = p.mean.map((m, i) => ({ mean: m, err: p.err[i], dots: p.dots[i], col: cols[i % 3], light: lights[i % 3] }))
        return (
          <g key={p.label}>
            <DotBarPlot x0={575} x1={776} y0={p.y0} yTop={p.yTop} max={p.max} ticks={p.ticks} xs={xs} bw={inner.bandwidth()} slots={slots} r={1.8} sp={3.5} sig={p.sig} tickSize={9.5} seps={seps} starSize={7.5} starLs={0.4} />
            <YLabel x={536} y={(p.y0 + p.yTop) / 2} t={p.label} />
          </g>
        )
      })}
      {gGroups.map((g, i) => (
        <g key={i}>
          <text x={outer(keys[i]) + outer.bandwidth() / 2} y={1022} textAnchor="middle" fontSize={9.5} fill="#111">{g[0]}</text>
          <text x={outer(keys[i]) + outer.bandwidth() / 2} y={1035} textAnchor="middle" fontSize={9.5} fill="#111">{g[1]}</text>
        </g>
      ))}
      <Legend items={[['Mock-CAR', K], ['CD19-CAR', GREY], ['Tan(S)-CAR', DRED]]} x={584} y={1047} dx={68} fs={8.5} />
    </g>
  )
}

export default function App() {
  return (
    <div style={{ position: 'absolute', left: 0, top: 0 }}>
      <svg width={787} height={1059} style={{ display: 'block', fontFamily: FONT }}>
        <rect width={787} height={1059} fill="#fff" />
        <PanelA />
        <PanelB />
        <PanelC />
        <PanelD />
        <PanelE />
        <PanelF />
        <PanelG />
      </svg>
    </div>
  )
}
